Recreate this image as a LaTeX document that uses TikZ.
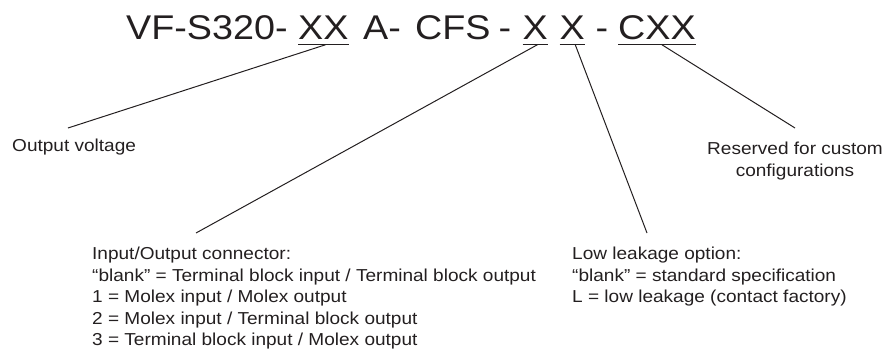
\documentclass[tikz,border=0pt]{standalone}
\usepackage{fontspec}
\setmainfont{Liberation Sans}[FakeStretch=1.1]
\definecolor{ink}{HTML}{231F20}
\begin{document}
\begin{tikzpicture}[x=1pt,y=-1pt,
  titlepart/.style={inner sep=0pt, anchor=base west, font=\fontsize{34.3}{40}\selectfont, text=ink},
  lbl/.style={inner sep=0pt, font=\fontsize{17.3}{21.5}\selectfont, text=ink},
  uline/.style={draw=ink, line width=1.1pt},
  conn/.style={draw=ink, line width=1pt}]
\useasboundingbox (0,0) rectangle (884,351);
% title pieces
\node[titlepart] (t1) at (126,39.3) {VF-S320-};
\node[titlepart] (xx) at (298,39.3) {XX};
\node[titlepart] (t2) at (363,39.3) {A-};
\node[titlepart] (t3) at (415,39.3) {CFS};
\node[titlepart] (t4) at (498.5,39.3) {-};
\node[titlepart] (xa) at (522.5,39.3) {X};
\node[titlepart] (xb) at (559.5,39.3) {X};
\node[titlepart] (t5) at (595.5,39.3) {-};
\node[titlepart] (cxx) at (618,39.3) {CXX};
% underlines
\foreach \n in {xx,xa,xb,cxx}
  \draw[uline] ([yshift=-5pt]\n.base west) -- ([yshift=-5pt]\n.base east);
% labels
\node[lbl, anchor=base west] (ov) at (12,151.4) {Output voltage};
\node[lbl, anchor=north, align=center] (rc) at (795,142) {Reserved for custom\\configurations};
\node[lbl, anchor=north west, align=left] (io) at (92,247) {Input/Output connector:\\
“blank” = Terminal block input / Terminal block output\\
1 = Molex input / Molex output\\
2 = Molex input / Terminal block output\\
3 = Terminal block input / Molex output};
\node[lbl, anchor=north west, align=left] (ll) at (572,247) {Low leakage option:\\
“blank” = standard specification\\
L = low leakage (contact factory)};
% connector ends
\coordinate (ovend) at (68,128);
\coordinate (ioend) at (196,233);
\coordinate (llend) at (647,233);
\coordinate (rcend) at (795,128);
% connectors
\draw[conn] ([yshift=-5.5pt,xshift=2pt]xx.base) -- (ovend);
\draw[conn] ([yshift=-5.5pt,xshift=2pt]xa.base) -- (ioend);
\draw[conn] ([yshift=-5.5pt,xshift=3pt]xb.base) -- (llend);
\draw[conn] ([yshift=-5.5pt,xshift=5pt]cxx.base) -- (rcend);
\end{tikzpicture}
\end{document}
